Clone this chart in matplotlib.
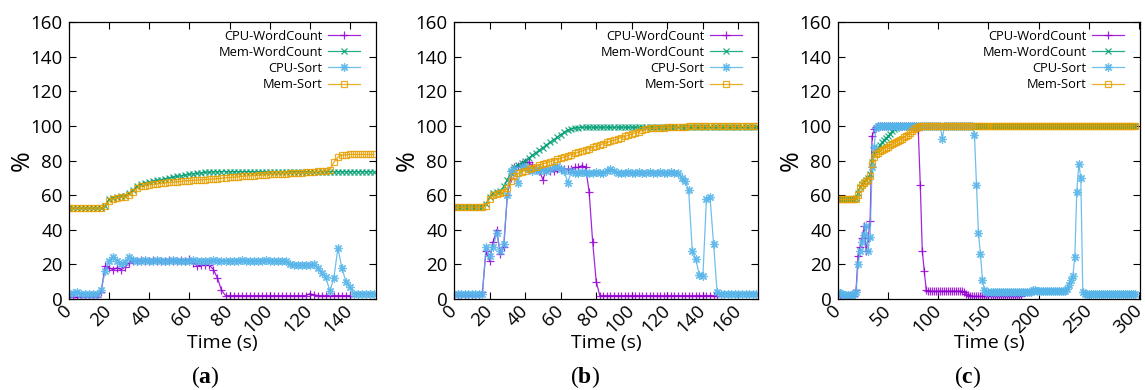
import numpy as np
import matplotlib
matplotlib.use('Agg')
import matplotlib.pyplot as plt

plt.rcParams['font.family'] = ['Open Sans', 'DejaVu Sans']
plt.rcParams['mathtext.fontset'] = 'custom'
plt.rcParams['mathtext.rm'] = 'Liberation Serif'
plt.rcParams['mathtext.bf'] = 'Liberation Serif:bold'

# ---------------- data (sampled every 2 s) ----------------
names = ['CPU-WordCount', 'Mem-WordCount', 'CPU-Sort', 'Mem-Sort']

# panel (a)
time_a = np.arange(0, 153, 2)
cpu_wc_a = [1, 1, 1, 1, 1, 1, 1, 1,
            4, 19, 18, 17, 18, 17, 18.5, 21, 22,
            22, 22.5, 22, 22, 22.5, 22, 22, 22, 22.5, 22, 22, 22.5, 22, 23,
            21, 19, 19.5, 19.5, 19.5, 17, 12, 5, 2,
            2, 2, 2, 2, 2, 2, 2, 2, 2, 2,
            2, 2, 2, 2, 2, 2, 2, 2, 2, 2,
            3, 2.5, 2, 2, 2, 2, 2, 2, 2, 2, 2]
mem_wc_a = [52.5, 52.5, 52.5, 52.5, 52.5, 52.5, 52.5, 52.5, 52.5,
            54, 57.5, 58.5, 59, 59.3, 59.7, 61, 63, 65.5, 66.5,
            67, 67.5, 68, 68.5, 69, 69.5, 70, 70.4, 70.8, 71.2,
            71.6, 72, 72.3, 72.6, 72.9, 73.1, 73.3, 73.4, 73.5,
            73.5, 73.5, 73.4, 73.5, 73.5, 73.4, 73.5, 73.5, 73.4, 73.5,
            73.5, 73.4, 73.5, 73.5, 73.4, 73.5, 73.5, 73.4, 73.5, 73.5,
            73.4, 73.5, 73.5, 73.4, 73.5, 73.5, 73.4, 73.5, 73.5, 73.4,
            73.5, 73.5, 73.4, 73.5, 73.5, 73.4, 73.5, 73.5, 73.4]
cpu_sort_a = [3, 3.5, 4, 3, 3, 3, 3, 3, 5, 16,
              22, 24.5, 22, 20, 21.5, 24.5, 22.5, 22, 22, 22.5,
              22, 22, 22.5, 22, 22, 22, 22.5, 22, 22, 22,
              22, 22.5, 22, 22, 22, 22, 22.5, 22, 22, 22,
              22, 22, 22, 22.5, 22, 22, 22, 22, 22, 22.5,
              22, 22, 22, 22, 22,
              20, 19.5, 19.5, 19.5, 19.5, 19.5, 20,
              18, 15, 12.5, 4.5, 12, 29.5, 18, 10, 7, 3,
              3, 3, 3, 3, 3]
mem_sort_a = [52.5, 52.5, 52.5, 52.5, 52.5, 52.5, 52.5, 52.5, 52.5,
              53.5, 56.5, 58, 58.5, 58.7, 59, 60, 62, 64, 65,
              65.5, 66, 66.3, 66.5, 66.8, 67, 67.3, 67.5, 67.7, 68,
              68.2, 68.3, 68.5, 68.7, 68.8, 69, 69.2, 69.3, 69.5, 69.7,
              70, 70.2, 70.4, 70.6, 70.8, 71, 71.2, 71.3, 71.5, 71.6,
              71.8, 72, 72.1, 72.2, 72.3, 72.4, 72.5, 72.6, 72.8, 73,
              73.1, 73.3, 73.5, 73.7, 73.9, 74.1, 74.5,
              79, 82, 83, 83.3,
              83.5, 83.5, 83.5, 83.5, 83.5, 83.5, 83.5]

# panel (b)
time_b = np.arange(0, 171, 2)
cpu_wc_b = [2, 2, 2, 2, 2, 2, 2, 2,
            4, 28, 22, 33, 40, 26, 30, 60, 70, 76,
            77, 78, 79, 79, 77, 75, 74, 69, 75, 74,
            74, 75, 75, 75, 75, 75, 76, 76, 77, 76,
            62, 33, 10, 2,
            2, 2, 2, 2, 2, 2, 2, 2, 2, 2,
            2, 2, 2, 2, 2, 2, 2, 2, 2, 2,
            2, 2, 2, 2, 2, 2, 2, 2, 2, 2,
            2, 2, 2]
mem_wc_b = [53, 53, 53, 53, 53, 53, 53, 53, 53,
            55, 59, 61.5, 62, 62.5, 65, 69, 73, 76,
            77.5, 78.5, 80, 81.5, 83, 84.5, 86, 87.5, 89,
            90.5, 92, 93.5, 95, 96.3, 97.5, 98.3, 98.8, 99,
            99.2, 99.2, 99.2, 99.2, 99.2, 99.2, 99.2, 99.2, 99.2, 99.2,
            99.2, 99.2, 99.2, 99.2, 99.2, 99.2, 99.2, 99.2, 99.2, 99.2,
            99.2, 99.2, 99.2, 99.2, 99.2, 99.2, 99.2, 99.2, 99.2, 99.2,
            99.2, 99.2, 99.2, 99.2, 99.2, 99.2, 99.2, 99.2, 99.2, 99.2,
            99.2, 99.2, 99.2, 99.2, 99.2, 99.2, 99.2, 99.2, 99.2, 99.2]
cpu_sort_b = [3, 3, 3, 3, 3, 3, 3, 3, 3,
              30, 25, 30, 38, 28, 32, 60, 74, 75, 67,
              76, 76, 75, 74, 75, 74, 75, 74, 75, 76,
              77, 75, 74, 67, 74,
              73, 73, 73.5, 73, 73, 73, 73.5, 73, 73, 74,
              75, 74, 72.5, 73, 73, 73.5, 73, 73, 73.5, 73,
              73, 73.5, 73, 73, 73.5, 73, 73, 73.5, 73, 73,
              70, 68, 63, 28, 23, 14, 13, 58, 59, 32, 4,
              3, 3, 3, 3, 3, 3, 3, 3, 3, 3, 3]
mem_sort_b = [53, 53, 53, 53, 53, 53, 53, 53, 53,
              54, 58, 60, 60.5, 61, 62, 64, 68, 71, 72.5,
              73.5, 74.2, 75, 75.8, 76.5, 77.3, 78, 78.7, 79.4, 80,
              80.6, 81.3, 82, 82.7, 83.4, 84.1, 84.8, 85.5, 86.2, 86.9,
              87.6, 88.3, 89, 89.7, 90.4, 91.1, 91.8, 92.5, 93.2, 93.9,
              94.6, 95.3, 96, 96.7, 97.4, 98, 98.5, 98.7, 98.8, 99,
              99, 99.1, 99.2, 99.3, 99.4, 99.5, 99.6,
              99.7, 99.7, 99.7, 99.7, 99.7, 99.7, 99.7, 99.7, 99.7, 99.7,
              99.7, 99.7, 99.7, 99.7, 99.7, 99.7, 99.7, 99.7, 99.7, 99.7]

# panel (c)
time_c = np.arange(0, 297, 2)
cpu_wc_c = [2, 2, 2, 2, 2, 2, 2, 2, 2,
            5, 25, 30, 35, 42, 28, 35, 45, 94, 98, 99.5,
            100, 100, 100, 100, 100, 100, 100, 100, 100, 100,
            100, 100, 100, 100, 100, 100, 100, 100, 100, 100,
            97.5, 66, 28, 16, 5, 4.5,
            4.5, 4.5, 4.5, 4.5, 4.5, 4.5, 4.5, 4.5, 4.5, 4.5,
            4.5, 4.5, 4.5, 4.5, 4.5, 4.5, 4.5,
            4, 3, 2.2,
            1.5, 1.5, 1.5, 1.5, 1.5, 1.5, 1.5, 1.5, 1.5, 1.5,
            1.5, 1.5, 1.5, 1.5, 1.5, 1.5, 1.5, 1.5, 1.5, 1.5,
            1.5, 1.5, 1.5, 1.5, 1.5, 1.5]
mem_wc_c = [57.5, 57.5, 57.5, 57.5, 57.5, 57.5, 57.5, 57.5, 57.5,
            58.5, 61, 64.5, 66.5, 67.5, 68.5, 70, 72, 79, 84, 86,
            87.5, 89, 90.5, 92, 93, 94, 95.5, 96.8, 98, 99, 99.6,
            100, 100, 100, 100, 100, 100, 100, 100, 100, 100,   # 62-80
            100, 100, 100, 100, 100, 100, 100, 100, 100, 100,   # 82-100
            100, 100, 100, 100, 100, 100, 100, 100, 100, 100,   # 102-120
            100, 100, 100, 100, 100, 100, 100, 100, 100, 100,   # 122-140
            100, 100, 100, 100, 100, 100, 100, 100, 100, 100,   # 142-160
            100, 100, 100, 100, 100, 100, 100, 100, 100, 100,   # 162-180
            100, 100, 100, 100, 100, 100, 100, 100, 100, 100,   # 182-200
            100, 100, 100, 100, 100, 100, 100, 100, 100, 100,   # 202-220
            100, 100, 100, 100, 100, 100, 100, 100, 100, 100,   # 222-240
            100, 100, 100, 100, 100, 100, 100, 100, 100, 100,   # 242-260
            100, 100, 100, 100, 100, 100, 100, 100, 100, 100,   # 262-280
            100, 100, 100, 100, 100, 100, 100, 100]             # 282-296
cpu_sort_c = [4, 3.5, 3, 2.5, 2.5, 2.5, 2.5, 2.5, 3, 4,
              20, 28, 33, 37, 42, 28, 36, 76, 88, 99,
              100, 100, 100, 100, 100, 100, 100, 100, 100, 100,
              100, 100, 100, 100, 100, 100, 100, 100, 100, 100,
              100, 100, 100, 100, 100, 100, 100, 100, 100, 100,
              100, 100,
              92.5,
              100, 100, 100, 100, 100, 100, 100, 100, 100, 100,
              100, 100, 100, 100, 100,
              95, 66, 38, 26, 11, 5,
              4.3, 4.3, 4.3, 4.3, 4.3, 4.3, 4.3, 4.3, 4.3, 4.3,
              4.3, 4.3, 4.3, 4.3, 4.3, 4.3, 4.3, 4.3, 4.3, 4.3,
              4.3, 4.3, 4.3,
              5, 5, 4.8,
              4.5, 4.5, 4.5, 4.5, 4.5, 4.5, 4.5, 4.5, 4.5, 4.5,
              4.5, 4.5, 4.5, 4.5,
              6, 8, 11, 13, 24, 62, 78, 70, 4,
              3, 3, 3, 3, 3, 3, 3, 3, 3, 3,
              3, 3, 3, 3, 3, 3, 3, 3, 3, 3,
              3, 3, 3, 3, 3, 3]
mem_sort_c = [57.5, 57.5, 57.5, 57.5, 57.5, 57.5, 57.5, 57.5, 57.5,
              58, 60, 64, 66, 67, 68, 69, 71, 78, 82,
              83.5, 84.5, 85.5, 86, 86.8, 87.5, 88, 88.7, 89.3, 90,
              90.6, 91.2, 92, 92.7, 93.4, 94.2, 95, 96, 97, 98,
              98.8, 99.3, 99.7,
              100, 100, 100, 100, 100, 100, 100, 100, 100, 100,   # 84-102
              100, 100, 100, 100, 100, 100, 100, 100, 100, 100,   # 104-122
              100, 100, 100, 100, 100, 100, 100, 100, 100, 100,   # 124-142
              100, 100, 100, 100, 100, 100, 100, 100, 100, 100,   # 144-162
              100, 100, 100, 100, 100, 100, 100, 100, 100, 100,   # 164-182
              100, 100, 100, 100, 100, 100, 100, 100, 100, 100,   # 184-202
              100, 100, 100, 100, 100, 100, 100, 100, 100, 100,   # 204-222
              100, 100, 100, 100, 100, 100, 100, 100, 100, 100,   # 224-242
              100, 100, 100, 100, 100, 100, 100, 100, 100, 100,   # 244-262
              100, 100, 100, 100, 100, 100, 100, 100, 100, 100,   # 264-282
              100, 100, 100, 100, 100, 100, 100]                  # 284-296

assert len(mem_wc_a) == len(mem_sort_a) == len(cpu_sort_a) == len(time_a)
assert len(mem_wc_b) == len(mem_sort_b) == len(cpu_sort_b) == len(time_b)
assert len(mem_wc_c) == len(mem_sort_c) == len(cpu_sort_c) == len(time_c)

panels = [
    (time_a, [cpu_wc_a, mem_wc_a, cpu_sort_a, mem_sort_a], 153, np.arange(0, 141, 20), 'a'),
    (time_b, [cpu_wc_b, mem_wc_b, cpu_sort_b, mem_sort_b], 171, np.arange(0, 161, 20), 'b'),
    (time_c, [cpu_wc_c, mem_wc_c, cpu_sort_c, mem_sort_c], 301, np.arange(0, 301, 50), 'c'),
]

# ---------------- style ----------------
colors = ['#9400d3', '#009e73', '#56b4e9', '#e69f00']
markers = ['+', 'x', (8, 2, 0), 's']
msizes = [6, 5, 6, 5]

W, H = 1145, 390
fig = plt.figure(figsize=(W / 100, H / 100), dpi=100)
ax_px = [(69, 376), (454, 758), (838, 1140)]
top, bottom = 22, 299
letter_x = [205, 585, 968]

for k, (t, series, xmax, xt, letter) in enumerate(panels):
    l, r = ax_px[k]
    ax = fig.add_axes([l / W, 1 - bottom / H, (r - l) / W, (bottom - top) / H])
    for i, vals in enumerate(series):
        ax.plot(t[:len(vals)], vals, color=colors[i], marker=markers[i],
                markersize=msizes[i], markeredgewidth=0.9, lw=0.9,
                fillstyle='none', alpha=0.85, label=names[i])
    ax.set_xlim(0, xmax)
    ax.set_ylim(0, 160)
    ax.set_yticks(np.arange(0, 161, 20))
    ax.set_xticks(xt)
    ax.tick_params(direction='in', length=5, width=0.8, top=True, right=True,
                   labelsize=13.5)
    ax.tick_params(axis='y', pad=4.5)
    ax.tick_params(axis='x', pad=6.5)
    for lbl in ax.get_xticklabels():
        lbl.set_rotation(45)
        lbl.set_ha('right')
        lbl.set_va('center')
        lbl.set_rotation_mode('anchor')
    for s in ax.spines.values():
        s.set_linewidth(0.9)
    ax.set_xlabel('Time (s)', fontsize=14, labelpad=-2)
    ax.set_ylabel('%', fontsize=18, labelpad=-3)
    ax.legend(loc='upper right', bbox_to_anchor=(0.948, 0.972), borderaxespad=0,
              borderpad=0, frameon=False, markerfirst=False, fontsize=9.3,
              handlelength=2.5, handletextpad=0.4, labelspacing=0.24, numpoints=1)
    fig.text(letter_x[k] / W, 1 - 377 / H, r'($\mathbf{' + letter + '}$)',
             ha='center', va='center', fontsize=17, family='Liberation Serif')

fig.savefig('out.png', dpi=100)
